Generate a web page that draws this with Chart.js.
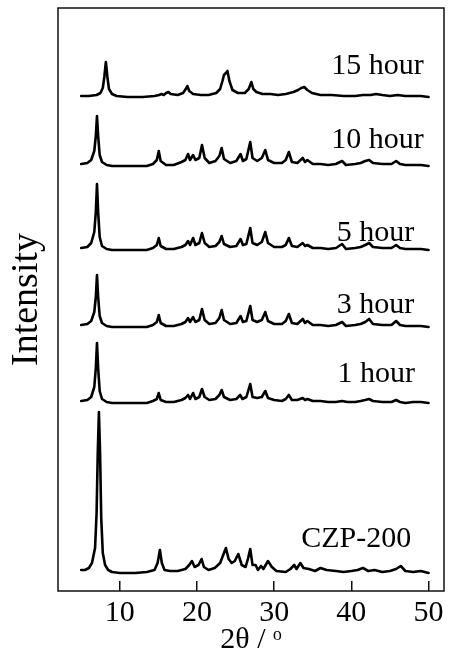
<!DOCTYPE html>
<html>
<head>
<meta charset="utf-8">
<script src="https://cdn.jsdelivr.net/npm/chart.js@4"></script>
<style>
  html, body { margin: 0; padding: 0; background: #fff; }
</style>
</head>
<body>
<canvas id="xrd" width="452" height="652"></canvas>
<script>
// sample names, bottom to top
const sampleNames = ['CZP-200', '1 hour', '3 hour', '5 hour', '10 hour', '15 hour'];
// vertical offset of each pattern (stacking)
const baselines = [18, 188, 264, 341, 425, 494];
// where the sample names sit (2theta, intensity units)
const labelX = [33.5, 38.2, 38.1, 38.1, 37.4, 37.4];
const labelY = [44, 209, 278, 350, 443, 517];
const xTicks = [10, 20, 30, 40, 50];

// [2theta, intensity above own baseline]
const czp200 = [[5.0,3],[5.5,3],[6.0,5],[6.4,10],[6.8,25],[7.0,60],[7.15,120],[7.3,161],[7.45,120],[7.6,55],[7.8,20],[8.1,8],[8.5,3],[9,1],[10,0],[12,0],[13.5,1],[14.5,3],[14.9,10],[15.2,23],[15.45,10],[15.8,3],[16.5,2],[17.5,2],[18.5,4],[19.0,8],[19.35,12],[19.7,6],[20.2,8],[20.6,14],[20.9,6],[21.5,3],[22.3,5],[23.0,10],[23.4,18],[23.75,25],[24.1,14],[24.5,10],[24.9,12],[25.35,19],[25.8,8],[26.3,6],[26.6,14],[26.9,24],[27.2,8],[27.6,8],[27.9,3],[28.3,7],[28.6,4],[29.2,12],[29.7,6],[30.3,2],[31.5,1],[32.1,4],[32.6,8],[32.9,4],[33.4,10],[33.8,5],[34.5,4],[35.3,2],[36.0,5],[36.8,3],[38,2],[39,1],[40,2],[40.8,3],[41.5,5],[42.2,2],[43,3],[44,1],[45,2],[45.8,4],[46.4,7],[47,2],[48,1],[49,2],[50,0]];

const hour1 = [[5.0,2],[5.8,3],[6.3,6],[6.7,16],[6.9,35],[7.05,60],[7.2,35],[7.4,12],[7.7,4],[8.3,1],[9,0],[11,0],[13.5,0],[14.3,2],[14.8,4],[15.05,10],[15.3,3],[16,1],[17,1],[18,3],[18.5,5],[18.85,8],[19.1,4],[19.5,10],[19.8,4],[20.3,6],[20.65,14],[21.0,6],[21.6,3],[22.4,4],[22.9,8],[23.2,13],[23.5,6],[24.3,3],[25.1,4],[25.6,8],[25.9,4],[26.4,6],[26.9,19],[27.2,6],[27.8,5],[28.4,6],[28.85,12],[29.2,5],[30,3],[31,2],[31.5,4],[31.9,8],[32.3,3],[33,3],[33.7,5],[34.0,3],[34.3,4],[35,2],[36,2],[37,1],[38,1],[38.8,2],[39.5,1],[40.5,1],[41.2,2],[41.8,3],[42.3,4],[42.8,2],[44,1],[45.2,1],[45.8,3],[46.3,1],[47,0],[48,1],[49,1],[50,0]];

const hour3 = [[5.0,2],[5.8,3],[6.3,6],[6.7,15],[6.9,30],[7.05,52],[7.2,30],[7.4,11],[7.7,4],[8.3,1],[9,0],[11,0],[13.5,0],[14.3,2],[14.8,5],[15.05,12],[15.3,4],[16,1],[17,1],[18,3],[18.5,5],[18.85,9],[19.1,5],[19.5,10],[19.8,5],[20.3,7],[20.65,18],[21.0,7],[21.6,3],[22.4,4],[22.9,9],[23.2,17],[23.5,7],[24.3,3],[25.1,4],[25.65,11],[25.95,5],[26.4,6],[26.9,21],[27.2,7],[27.8,5],[28.4,7],[28.85,15],[29.2,6],[30,3],[31,3],[31.5,6],[31.9,13],[32.3,4],[33,3],[33.7,8],[34.0,4],[34.3,6],[35,2],[36,2],[37,1],[38,2],[38.8,5],[39.3,1],[40.5,2],[41.2,3],[41.8,5],[42.3,8],[42.8,3],[44,2],[45.2,2],[45.8,6],[46.3,2],[47,1],[48,1],[49,1],[50,0]];

const hour5 = [[5.0,2],[5.8,3],[6.3,7],[6.7,18],[6.9,38],[7.05,66],[7.2,38],[7.4,13],[7.7,4],[8.3,1],[9,0],[11,0],[13.5,0],[14.3,2],[14.8,5],[15.05,12],[15.3,4],[16,1],[17,1],[18,3],[18.5,5],[18.85,9],[19.1,5],[19.5,12],[19.8,5],[20.3,7],[20.65,17],[21.0,7],[21.6,3],[22.4,4],[22.9,8],[23.2,14],[23.5,6],[24.3,3],[25.1,4],[25.65,11],[25.95,5],[26.4,6],[26.9,22],[27.2,7],[27.8,5],[28.4,8],[28.85,18],[29.2,7],[30,3],[31,3],[31.5,5],[31.9,12],[32.3,4],[33,3],[33.7,7],[34.0,4],[34.3,5],[35,2],[36,2],[37,1],[38,2],[38.8,6],[39.3,1],[40.5,2],[41.2,3],[41.8,5],[42.3,7],[42.8,3],[44,2],[45.2,2],[45.8,5],[46.3,2],[47,1],[48,1],[49,1],[50,0]];

const hour10 = [[5.0,2],[5.8,3],[6.3,6],[6.7,15],[6.9,30],[7.05,50],[7.2,30],[7.4,11],[7.7,4],[8.3,1],[9,0],[11,0],[13.5,0],[14.3,2],[14.8,6],[15.05,15],[15.3,5],[16,1],[17,1],[18,4],[18.5,6],[18.85,12],[19.1,6],[19.5,11],[19.8,6],[20.3,8],[20.65,21],[21.0,8],[21.6,3],[22.4,5],[22.9,10],[23.2,18],[23.5,7],[24.3,3],[25.1,5],[25.65,12],[25.95,5],[26.4,7],[26.9,24],[27.2,8],[27.8,5],[28.4,8],[28.85,16],[29.2,6],[30,3],[31,3],[31.5,6],[31.9,14],[32.3,4],[33,3],[33.7,8],[34.0,4],[34.3,6],[35,2],[36,2],[37,1],[38,2],[38.8,5],[39.3,1],[40.5,2],[41.2,3],[41.8,5],[42.3,6],[42.8,3],[44,2],[45.2,2],[45.8,5],[46.3,2],[47,1],[48,1],[49,1],[50,0]];

const hour15 = [[5.0,1],[6,1],[7,2],[7.5,4],[7.8,9],[8.0,20],[8.2,35],[8.4,20],[8.6,8],[9.0,3],[9.6,1],[11,0],[13,0],[14.5,1],[15.1,2],[15.4,3],[15.7,2],[16.0,4],[16.3,5],[16.6,3],[17.5,2],[18.2,4],[18.55,8],[18.75,11],[19.0,6],[19.5,3],[20.5,2],[21.5,2],[22.5,4],[23.0,8],[23.3,16],[23.5,22],[23.75,24],[23.95,26],[24.2,16],[24.6,7],[25.3,4],[26.2,4],[26.7,8],[27.05,15],[27.3,8],[27.7,5],[28.5,3],[29.5,3],[30.5,2],[31.5,3],[32.5,5],[33.1,7],[33.5,9],[33.9,10],[34.3,7],[34.9,4],[36,2],[37.5,2],[39,1],[40.5,1],[41.5,2],[42.5,2],[43.2,3],[44,2],[45,1],[46,2],[47,1],[48,1],[49,1],[50,0]];

const patterns = [czp200, hour1, hour3, hour5, hour10, hour15];

const serif = "'Liberation Serif', 'Times New Roman', serif";

// box round the plot
const frame = {
  id: 'frame',
  afterDraw(chart) {
    const a = chart.chartArea;
    const ctx = chart.ctx;
    ctx.save();
    ctx.strokeStyle = '#111';
    ctx.lineWidth = 1.5;
    ctx.strokeRect(a.left, a.top, a.right - a.left, a.bottom - a.top);
    ctx.restore();
  }
};

// sample names next to each pattern
const names = {
  id: 'names',
  afterDatasetsDraw(chart) {
    const ctx = chart.ctx;
    const xs = chart.scales.x, ys = chart.scales.y;
    ctx.save();
    ctx.fillStyle = '#000';
    ctx.font = '30px ' + serif;
    ctx.textAlign = 'left';
    ctx.textBaseline = 'alphabetic';
    sampleNames.forEach((n, i) => {
      ctx.fillText(n, xs.getPixelForValue(labelX[i]), ys.getPixelForValue(labelY[i]));
    });
    ctx.restore();
  }
};

const datasets = patterns.map((p, i) => ({
  label: sampleNames[i],
  data: p.map(pt => ({ x: pt[0], y: pt[1] + baselines[i] })),
  showLine: true,
  borderColor: '#000',
  borderWidth: 2.6,
  borderJoinStyle: 'round',
  borderCapStyle: 'round',
  pointRadius: 0,
  tension: 0
}));

new Chart(document.getElementById('xrd'), {
  type: 'scatter',
  data: { datasets: datasets },
  options: {
    responsive: false,
    animation: false,
    devicePixelRatio: 1,
    layout: { padding: { top: 8, right: 8, left: 0, bottom: 0 } },
    plugins: { legend: { display: false }, tooltip: { enabled: false } },
    scales: {
      x: {
        type: 'linear',
        min: 2,
        max: 52,
        afterBuildTicks(scale) { scale.ticks = xTicks.map(v => ({ value: v })); },
        afterFit(scale) { scale.height = 61; scale.paddingLeft = 0; scale.paddingRight = 0; },
        grid: { drawOnChartArea: false, drawTicks: true, tickLength: -10, color: '#111', lineWidth: 1.5 },
        border: { display: false },
        ticks: { color: '#000', font: { family: serif, size: 30 }, padding: 14, maxRotation: 0 },
        title: { display: true, text: '2θ / ᵒ', color: '#000', font: { family: serif, size: 30, lineHeight: 0.8 }, padding: 0 }
      },
      y: {
        min: 0,
        max: 583,
        afterFit(scale) { scale.width = 58; },
        grid: { display: false },
        border: { display: false },
        ticks: { display: false },
        title: { display: true, text: 'Intensity', color: '#000', font: { family: serif, size: 38, lineHeight: 1 }, padding: { top: 8 } }
      }
    }
  },
  plugins: [frame, names]
});
</script>
</body>
</html>
